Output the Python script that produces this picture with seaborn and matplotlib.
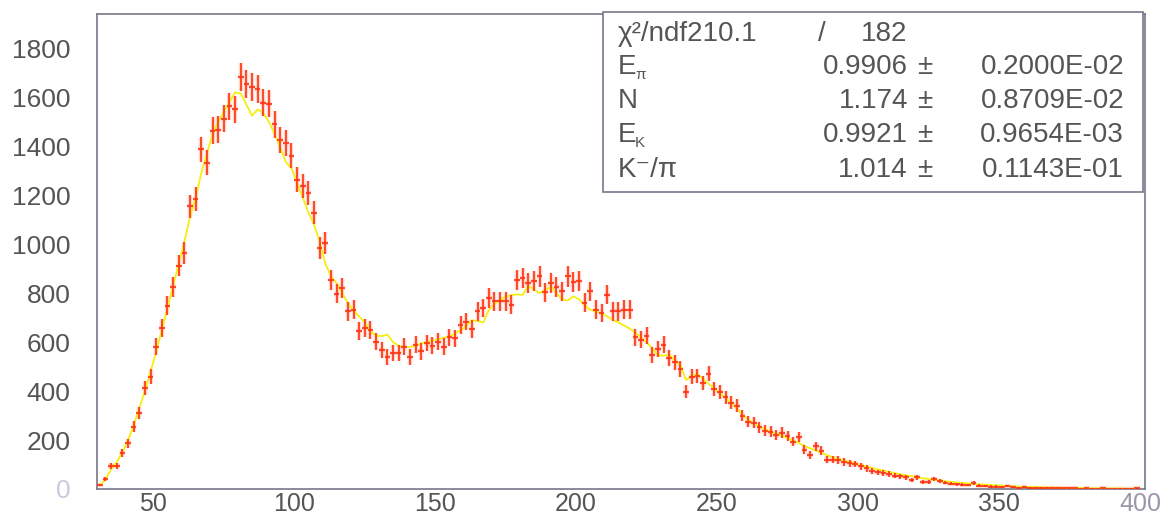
import matplotlib
matplotlib.use("Agg")
import matplotlib.pyplot as plt
import numpy as np
import pandas as pd
import seaborn as sns
from matplotlib.patches import Rectangle
from matplotlib.ticker import MultipleLocator

# histogram: 2-unit bins, centres 31 ... 399
BIN_FIRST = 31
BIN_LAST = 399
BIN_WIDTH = 2

COUNTS = [
    16, 41, 94, 94, 146, 187, 255, 310, 412, 459,
    582, 657, 748, 825, 912, 964, 1155, 1185, 1387, 1332,
    1464, 1468, 1512, 1564, 1550, 1682, 1655, 1641, 1634, 1577,
    1573, 1489, 1427, 1412, 1362, 1264, 1239, 1209, 1128, 984,
    1006, 855, 798, 821, 725, 733, 645, 657, 650, 602,
    568, 541, 557, 557, 582, 541, 589, 562, 596, 585,
    602, 582, 620, 616, 671, 684, 653, 725, 739, 780,
    766, 766, 766, 753, 855, 862, 841, 848, 868, 803,
    841, 825, 807, 868, 844, 848, 760, 807, 732, 718,
    793, 725, 725, 732, 732, 620, 609, 626, 548, 571,
    589, 534, 517, 490, 398, 459, 462, 432, 470, 410,
    395, 375, 352, 340, 300, 275, 271, 252, 238, 234,
    221, 230, 217, 194, 211, 160, 140, 174, 157, 120,
    120, 118, 110, 106, 102, 92, 84, 73, 68, 66,
    62, 55, 52, 48, 36, 48, 28, 28, 40, 33,
    26, 22, 20, 17, 16, 24, 14, 12, 10, 10,
    8, 12, 7, 6, 9, 5, 6, 4, 6, 5,
    4, 3, 4, 3, 2, 3, 2, 2, 3, 1,
    2, 1, 2, 1, 3,
]

FIT = [
    14, 40, 80, 110, 150, 200, 260, 330, 400, 480,
    560, 650, 740, 830, 920, 1010, 1110, 1190, 1290, 1370,
    1450, 1500, 1540, 1580, 1620, 1615, 1570, 1525, 1550, 1535,
    1500, 1450, 1395, 1335, 1310, 1250, 1190, 1130, 1080, 1010,
    920, 870, 840, 800, 760, 730, 705, 680, 645, 625,
    625, 630, 600, 585, 580, 580, 585, 595, 600, 606,
    612, 617, 623, 635, 648, 665, 690, 685, 680, 730,
    755, 773, 785, 792, 795, 793, 830, 815, 800, 812,
    827, 800, 775, 770, 787, 775, 750, 732, 725, 718,
    705, 690, 680, 668, 655, 638, 620, 598, 575, 545,
    545, 548, 525, 505, 445, 462, 470, 450, 430, 410,
    392, 372, 350, 330, 300, 285, 268, 255, 245, 235,
    225, 218, 208, 198, 188, 176, 166, 157, 148, 138,
    130, 123, 116, 110, 104, 98, 92, 86, 80, 75,
    70, 65, 60, 56, 52, 48, 44, 41, 38, 35,
    32, 29, 27, 25, 23, 21, 19, 18, 16, 15,
    14, 12, 11, 10, 9, 8, 8, 7, 6, 6,
    5, 5, 4, 4, 4, 3, 3, 3, 2, 2,
    2, 2, 1, 1, 1,
]

X_TICKS = [50, 100, 150, 200, 250, 300, 350, 400]
Y_TICKS = [0, 200, 400, 600, 800, 1000, 1200, 1400, 1600, 1800]

STAT_NAMES = ["E", "N", "E", "K\u207b/\u03c0"]
STAT_SUBS = ["\u03c0", "", "K", ""]
STAT_VALUES = ["0.9906", "1.174", "0.9921", "1.014"]
STAT_ERRORS = ["0.2000E-02", "0.8709E-02", "0.9654E-03", "0.1143E-01"]
CHI2_TEXT = "\u03c7\u00b2/ndf210.1"
NDF_TEXT = "182"

W, H = 1164, 519
POINT_RED = "#ff3010"
HALO = "#ffb8a8"
FIT_YELLOW = "#f6ee10"
AXIS_GREY = "#77778a"
TEXT_GREY = "#555555"
FONT = ["Liberation Sans", "DejaVu Sans"]

sns.set_theme(style="white")
plt.rcParams["font.family"] = FONT

centres = np.arange(BIN_FIRST, BIN_LAST + 1, BIN_WIDTH)
df = pd.DataFrame({"x": centres, "count": COUNTS, "fit": FIT})
yerr = 1.4 * np.sqrt(df["count"])

fig = plt.figure(figsize=(W / 100, H / 100), dpi=100)
ax = fig.add_axes([97 / W, (H - 489) / H, (1145 - 97) / W, (489 - 14) / H])

# soft halo under the crosses, then the crosses themselves
ax.errorbar(df["x"], df["count"], yerr=yerr, xerr=BIN_WIDTH / 2, fmt="none",
            ecolor=HALO, elinewidth=3.2, alpha=0.55, zorder=2)
sns.lineplot(data=df, x="x", y="fit", color=FIT_YELLOW, linewidth=1.3,
             ax=ax, zorder=3)
ax.errorbar(df["x"], df["count"], yerr=yerr, xerr=BIN_WIDTH / 2, fmt="none",
            ecolor=POINT_RED, elinewidth=1.2, zorder=4)

ax.set_xlim(30, 401.8)
ax.set_ylim(0, 1940)
ax.set_xlabel("")
ax.set_ylabel("")
ax.set_xticks(X_TICKS)
ax.set_yticks(Y_TICKS)
ax.xaxis.set_minor_locator(MultipleLocator(10))
ax.yaxis.set_minor_locator(MultipleLocator(50))

for side in ax.spines.values():
    side.set_color(AXIS_GREY)
    side.set_linewidth(1.2)

ax.tick_params(which="both", direction="in", color="#555560", width=1.0,
               labelcolor=TEXT_GREY)
ax.tick_params(which="major", length=12.5)
ax.tick_params(which="minor", length=6)
ax.tick_params(axis="y", pad=19, labelsize=19)
ax.tick_params(axis="x", pad=2.5, labelsize=18)
ax.get_yticklabels()[0].set_color("#cfc6e0")
ax.get_xticklabels()[-1].set_color("#9a98aa")

# fit statistics box
fig.add_artist(Rectangle((603 / W, 1 - 192 / H), 540 / W, 180 / H,
                         transform=fig.transFigure, fill=True,
                         facecolor="white", edgecolor=AXIS_GREY,
                         linewidth=1.2, zorder=10))


def px(x, y):
    return x / W, 1 - y / H


box_font = dict(fontsize=20, color=TEXT_GREY, va="center", zorder=11)
fig.text(*px(618, 34), CHI2_TEXT, ha="left", **box_font)
fig.text(*px(822, 34), "/", ha="center", **box_font)
fig.text(*px(907, 34), NDF_TEXT, ha="right", **box_font)

row_y = [67, 101, 135, 170]
for name, sub, val, err, y in zip(STAT_NAMES, STAT_SUBS, STAT_VALUES,
                                  STAT_ERRORS, row_y):
    fig.text(*px(618, y), name, ha="left", **box_font)
    if sub:
        fig.text(*px(635, y + 8), sub, ha="left", fontsize=11,
                 color=TEXT_GREY, va="center", zorder=11)
    fig.text(*px(908, y), val, ha="right", **box_font)
    fig.text(*px(925, y), "\u00b1", ha="center", **box_font)
    fig.text(*px(1124, y), err, ha="right", **box_font)

fig.savefig("out.png", dpi=100)
